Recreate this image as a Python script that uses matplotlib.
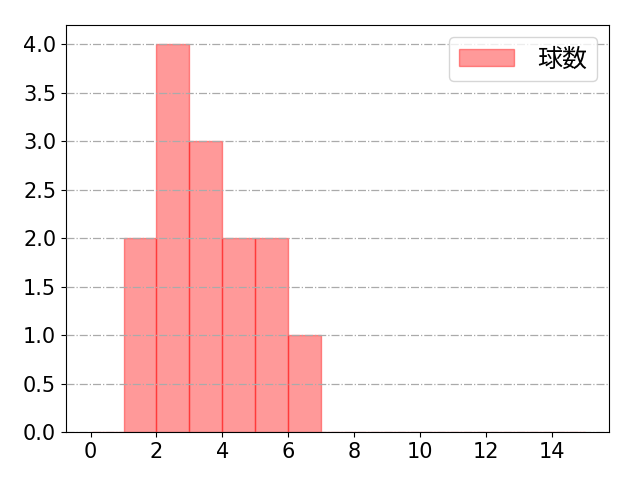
import numpy as np
import matplotlib
matplotlib.use("Agg")
import matplotlib.pyplot as plt

plt.rcParams['font.family'] = ['DejaVu Sans', 'Noto Sans CJK JP']
plt.rcParams['font.size'] = 15

# pitch counts per bin (bin edges 0..15)
values = [1, 1, 2, 2, 2, 2, 3, 3, 3, 4, 4, 5, 5, 6]
bins = list(range(0, 16))
label = "球数"

fig, ax = plt.subplots(figsize=(6.4, 4.8), dpi=100)
ax.hist(values, bins=bins, color=(1, 0, 0, 0.4), edgecolor=(1, 0, 0, 0.4),
        linewidth=1.0, label=label)
ax.set_axisbelow(False)
ax.grid(axis='y', linestyle='-.', color='#aaaaaa', linewidth=0.9)
ax.set_xticks(range(0, 15, 2))
ax.set_ylim(0, 4.2)
ax.legend(loc='upper right', fontsize=18, handlelength=2.2, handletextpad=0.9)
fig.subplots_adjust(left=0.103, right=0.952, top=0.948, bottom=0.1)
plt.savefig("out.png")
